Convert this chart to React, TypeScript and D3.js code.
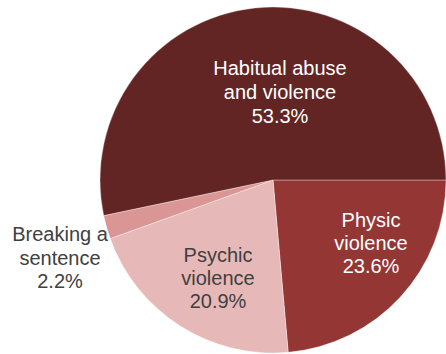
import React from "react";
import * as d3 from "d3";

const categories = ["Physic violence", "Psychic violence", "Breaking a sentence", "Habitual abuse and violence"];
const values = [23.6, 20.9, 2.2, 53.3];
const labelLines = [
  ["Physic", "violence", "23.6%"],
  ["Psychic", "violence", "20.9%"],
  ["Breaking a", "sentence", "2.2%"],
  ["Habitual abuse", "and violence", "53.3%"],
];
const colors = ["#943634", "#E6B9B8", "#D99694", "#632523"];
const textColors = ["#ffffff", "#404040", "#404040", "#ffffff"];
// label anchor (x, first baseline) and line spacing
const labelPos = [
  [371, 227, 23],
  [218, 262, 23],
  [60, 241, 23.5],
  [280, 75, 24],
];

export default function App() {
  const W = 446, H = 354;
  const cx = 273, cy = 180, r = 173;
  const pie = d3
    .pie<number>()
    .sort(null)
    .startAngle(Math.PI / 2)
    .endAngle(Math.PI / 2 + 2 * Math.PI);
  const arcs = pie(values);
  const arc = d3.arc<d3.PieArcDatum<number>>().innerRadius(0).outerRadius(r);
  return (
    <svg
      width={W}
      height={H}
      style={{ position: "absolute", left: 0, top: 0 }}
      fontFamily="'Liberation Sans', Arial, sans-serif"
    >
      <g transform={`translate(${cx},${cy})`}>
        {arcs.map((a, i) => (
          <path key={categories[i]} d={arc(a) || ""} fill={colors[i]} stroke="#ffffff" strokeOpacity={0.35} strokeWidth={1} />
        ))}
      </g>
      {labelLines.map((lines, i) => (
        <text key={i} textAnchor="middle" fontSize={20} fill={textColors[i]}>
          {lines.map((t, j) => (
            <tspan key={j} x={labelPos[i][0]} y={labelPos[i][1] + j * labelPos[i][2]}>
              {t}
            </tspan>
          ))}
        </text>
      ))}
    </svg>
  );
}
